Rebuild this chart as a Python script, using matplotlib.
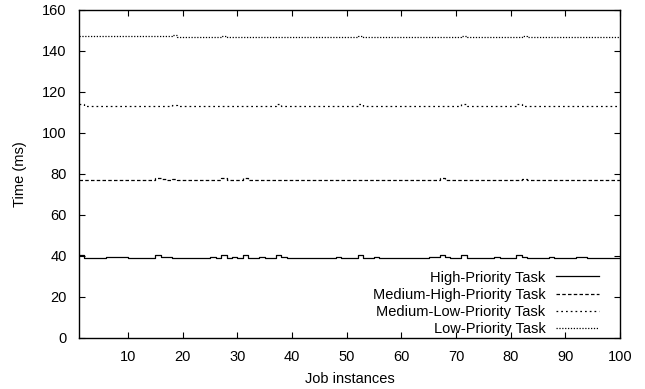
import matplotlib
matplotlib.use('Agg')
import matplotlib.pyplot as plt
import numpy as np

plt.rcParams['font.family'] = ['Liberation Sans', 'DejaVu Sans']
plt.rcParams['font.size'] = 10.5

jobs = np.arange(1, 101)

# response time per job instance (ms)
high = [
    40.2, 39.1, 39.1, 39.1, 39.1, 39.2, 39.2, 39.2, 39.2, 39.1,
    39.1, 39.1, 39.1, 39.1, 40.3, 39.2, 39.2, 39.1, 39.1, 39.0,
    39.0, 39.0, 39.1, 39.1, 39.2, 39.1, 40.3, 39.1, 39.2, 39.1,
    40.3, 39.1, 39.1, 39.2, 39.1, 39.1, 40.2, 39.2, 39.1, 39.1,
    39.0, 39.1, 39.1, 39.0, 39.1, 39.1, 39.1, 39.2, 39.1, 39.1,
    39.1, 40.3, 39.1, 39.1, 39.2, 39.1, 39.1, 39.1, 39.0, 39.1,
    39.1, 39.1, 39.1, 39.1, 39.2, 39.2, 40.3, 39.2, 39.1, 39.1,
    40.3, 39.1, 39.1, 39.0, 39.1, 39.1, 39.2, 39.1, 39.1, 39.1,
    40.3, 39.2, 39.1, 39.0, 39.1, 39.1, 39.2, 39.1, 39.0, 39.1,
    39.1, 39.2, 39.2, 39.1, 39.1, 39.1, 39.0, 39.1, 39.1, 39.1,
]
med_high = [
    76.9, 76.8, 76.8, 76.8, 76.9, 76.8, 76.8, 76.8, 76.9, 76.8,
    76.8, 76.8, 76.8, 76.8, 77.9, 77.2, 76.8, 77.4, 76.8, 76.8,
    76.9, 76.8, 76.8, 76.8, 76.8, 76.9, 77.9, 77.1, 76.8, 76.8,
    77.9, 77.0, 76.8, 76.8, 76.8, 76.8, 76.8, 76.8, 76.9, 76.8,
    76.8, 76.8, 76.7, 76.8, 76.8, 76.9, 76.8, 76.8, 76.8, 76.8,
    76.8, 76.8, 76.8, 76.8, 76.8, 76.8, 76.8, 76.8, 76.8, 76.8,
    76.8, 76.8, 76.8, 76.8, 76.8, 76.8, 77.7, 77.0, 76.8, 76.8,
    76.8, 76.9, 76.8, 76.8, 76.8, 76.7, 76.7, 76.8, 76.8, 76.8,
    76.8, 77.3, 76.8, 76.8, 76.9, 76.9, 76.8, 76.8, 76.8, 76.7,
    76.8, 76.8, 76.8, 76.8, 76.9, 76.8, 76.8, 76.8, 76.8, 76.8,
]
med_low = [
    114.0, 113.0, 113.0, 113.0, 113.0, 113.1, 113.0, 113.0, 113.0, 113.0,
    113.0, 113.0, 113.0, 113.0, 113.1, 113.0, 113.0, 113.6, 113.0, 113.0,
    113.0, 113.0, 113.0, 113.0, 113.0, 113.0, 113.0, 113.0, 113.0, 113.0,
    113.0, 113.0, 113.0, 113.0, 113.0, 112.9, 114.0, 113.1, 113.0, 113.0,
    113.0, 113.0, 113.0, 113.0, 113.0, 113.0, 113.0, 113.0, 113.0, 113.0,
    113.0, 114.0, 113.1, 113.0, 113.0, 113.0, 113.0, 113.0, 113.0, 113.0,
    113.0, 113.0, 113.0, 113.0, 113.0, 113.0, 113.0, 113.0, 113.0, 112.9,
    114.0, 113.1, 113.0, 113.0, 113.0, 113.0, 113.0, 113.0, 113.0, 113.0,
    114.0, 113.2, 113.0, 113.0, 113.0, 113.0, 113.0, 113.0, 113.0, 113.0,
    113.0, 113.0, 113.0, 113.0, 113.0, 113.0, 113.0, 113.0, 113.0, 113.0,
]
low = [
    147.0, 147.0, 147.0, 147.0, 147.0, 147.3, 147.0, 147.0, 147.0, 147.0,
    147.0, 147.0, 147.0, 147.0, 147.0, 147.0, 147.0, 147.7, 146.9, 146.9,
    146.9, 146.9, 146.9, 146.9, 146.9, 146.9, 147.1, 146.9, 146.9, 146.9,
    146.9, 146.9, 146.9, 146.9, 146.9, 146.9, 146.9, 146.9, 146.9, 146.9,
    146.9, 146.9, 146.9, 146.9, 146.9, 146.9, 146.9, 146.9, 146.9, 146.9,
    146.9, 147.4, 146.9, 146.9, 146.9, 146.9, 146.9, 146.9, 146.9, 146.9,
    146.9, 146.9, 146.9, 146.9, 146.9, 146.9, 146.9, 146.9, 146.9, 146.9,
    147.4, 146.9, 146.9, 146.9, 146.9, 146.9, 146.9, 146.9, 146.9, 146.9,
    146.9, 147.3, 146.9, 146.9, 146.9, 146.9, 146.9, 146.9, 146.9, 146.9,
    146.9, 146.9, 146.9, 146.9, 146.9, 146.9, 146.9, 146.9, 146.9, 146.9,
]

labels = ['High-Priority Task', 'Medium-High-Priority Task',
          'Medium-Low-Priority Task', 'Low-Priority Task']
dashes = [None, (2.8, 1.8), (1.4, 2.4), (1.0, 1.3)]

fig = plt.figure(figsize=(6.45, 3.89), dpi=100)
ax = fig.add_axes([0.1225, 0.132, 0.8385, 0.843])

for series, label, dash in zip([high, med_high, med_low, low], labels, dashes):
    line, = ax.plot(jobs, series, drawstyle='steps-post', color='black',
                    lw=0.9, label=label)
    if dash is not None:
        line.set_dashes(dash)

ax.set_xlim(1, 100)
ax.set_ylim(0, 160)
ax.set_xticks(np.arange(10, 101, 10))
ax.set_yticks(np.arange(0, 161, 20))
ax.tick_params(direction='in', top=True, right=True, length=4.5,
               width=0.8, pad=9)
for sp in ax.spines.values():
    sp.set_linewidth(1.0)

ax.set_xlabel('Job instances', labelpad=6)
ax.set_ylabel('Time (ms)', labelpad=11)

ax.legend(loc='lower right', bbox_to_anchor=(0.965, 0.0), frameon=False,
          markerfirst=False, handlelength=3.0, handletextpad=0.7,
          labelspacing=0.22, borderpad=0.1, borderaxespad=0)

fig.savefig('out.png', dpi=100)
